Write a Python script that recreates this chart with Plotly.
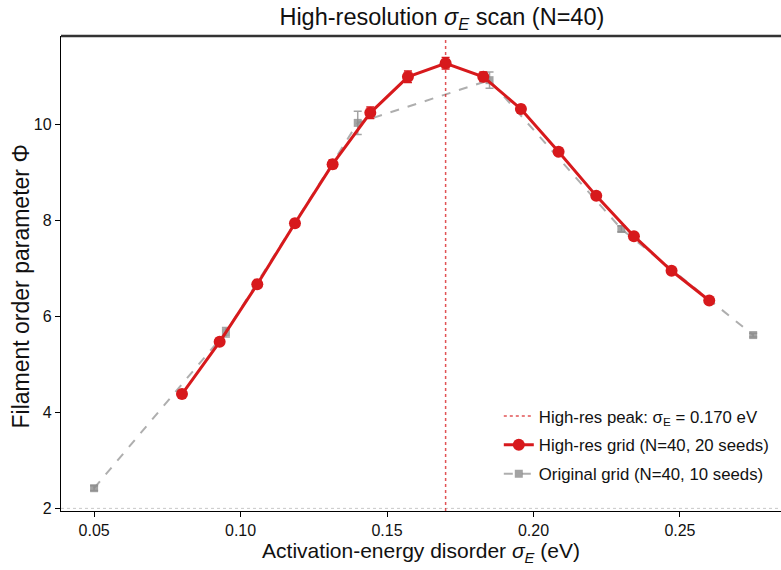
import plotly.graph_objects as go

# High-resolution grid (N=40, 20 seeds)
hr_sigma = [0.08, 0.09286, 0.10571, 0.11857, 0.13143, 0.14429, 0.15714, 0.17,
            0.18286, 0.19571, 0.20857, 0.22143, 0.23429, 0.24714, 0.26]
hr_phi = [4.38, 5.47, 6.67, 7.94, 9.17, 10.24, 10.99, 11.27,
          10.99, 10.32, 9.43, 8.51, 7.67, 6.95, 6.33]
hr_err = [0.06, 0.07, 0.07, 0.08, 0.09, 0.12, 0.12, 0.12,
          0.1, 0.08, 0.07, 0.06, 0.06, 0.05, 0.05]

# Original grid (N=40, 10 seeds)
og_sigma = [0.05, 0.095, 0.14, 0.185, 0.23, 0.275]
og_phi = [2.42, 5.67, 10.03, 10.92, 7.82, 5.61]
og_err = [0.05, 0.1, 0.24, 0.17, 0.06, 0.04]

peak_sigma = 0.170
x_ticks = [0.05, 0.10, 0.15, 0.20, 0.25]
y_ticks = [2, 4, 6, 8, 10]
x_range = [0.0387, 0.2845]
y_range = [1.945, 11.84]

RED = "#d7191c"

fig = go.Figure()

fig.add_trace(go.Scatter(
    x=og_sigma, y=og_phi, mode="lines+markers",
    name="Original grid (N=40, 10 seeds)", legendrank=3, legendgroup="og",
    line=dict(color="rgba(160,160,160,0.85)", width=2, dash="dash"),
    marker=dict(symbol="square", size=8, color="rgba(140,140,140,0.8)"),
    error_y=dict(type="data", array=og_err, color="rgba(140,140,140,0.8)",
                 thickness=1.5, width=4),
))

fig.add_trace(go.Scatter(
    x=hr_sigma, y=hr_phi, mode="lines+markers",
    name="High-res grid (N=40, 20 seeds)", legendrank=2, legendgroup="hr",
    line=dict(color=RED, width=3),
    marker=dict(symbol="circle", size=12, color=RED),
    error_y=dict(type="data", array=hr_err, color=RED, thickness=1.5, width=4),
))

fig.add_trace(go.Scatter(
    x=[peak_sigma, peak_sigma], y=y_range, mode="lines",
    name="High-res peak: σ<sub>E</sub> = 0.170 eV", legendrank=1, legendgroup="pk",
    line=dict(color="rgba(215,25,28,0.75)", width=1.5, dash="dot"),
))

# light dotted baseline at Φ = 2
fig.add_shape(type="line", xref="paper", x0=0, x1=1, yref="y", y0=2, y1=2,
              line=dict(color="#c8c8c8", width=1, dash="dot"), layer="below")
# top spine
fig.add_shape(type="line", xref="paper", x0=0, x1=1, yref="paper", y0=1, y1=1,
              line=dict(color="#333333", width=2.5))

font = "Liberation Sans, Arial, sans-serif"

# y-axis title as annotation for precise placement
fig.add_annotation(text="Filament order parameter Φ", textangle=-90,
                   xref="paper", x=0, xanchor="center", xshift=-41,
                   yref="paper", y=0.5, yanchor="middle", yshift=-13,
                   showarrow=False, font=dict(size=23, family=font, color="#111111"))

fig.update_layout(
    width=781, height=570,
    margin=dict(l=61, r=0, t=36, b=59),
    paper_bgcolor="white", plot_bgcolor="white",
    font=dict(family=font, color="#111111", size=16),
    title=dict(text="High-resolution <i>σ<sub>E</sub></i> scan (N=40)",
               xref="paper", x=0.529, xanchor="center", y=0.97, yanchor="middle",
               font=dict(size=23.5, family=font, color="#111111")),
    showlegend=True,
    legend=dict(x=0.99, xanchor="right", y=0.041, yanchor="bottom",
                bgcolor="rgba(255,255,255,0)", font=dict(size=16.8),
                tracegroupgap=4),
    xaxis=dict(range=x_range, tickvals=x_ticks,
               ticktext=[f"{v:.2f}" for v in x_ticks],
               showline=True, linecolor="black", linewidth=1.3,
               ticks="outside", ticklen=5, tickwidth=1.2, tickcolor="black",
               showgrid=False, zeroline=False,
               tickfont=dict(size=16),
               title=dict(text="Activation-energy disorder <i>σ<sub>E</sub></i> (eV)",
                          font=dict(size=21), standoff=4)),
    yaxis=dict(range=y_range, tickvals=y_ticks,
               showline=True, linecolor="black", linewidth=1.3,
               ticks="outside", ticklen=5, tickwidth=1.2, tickcolor="black",
               showgrid=False, zeroline=False,
               tickfont=dict(size=16)),
)

fig.write_html("out.html")
